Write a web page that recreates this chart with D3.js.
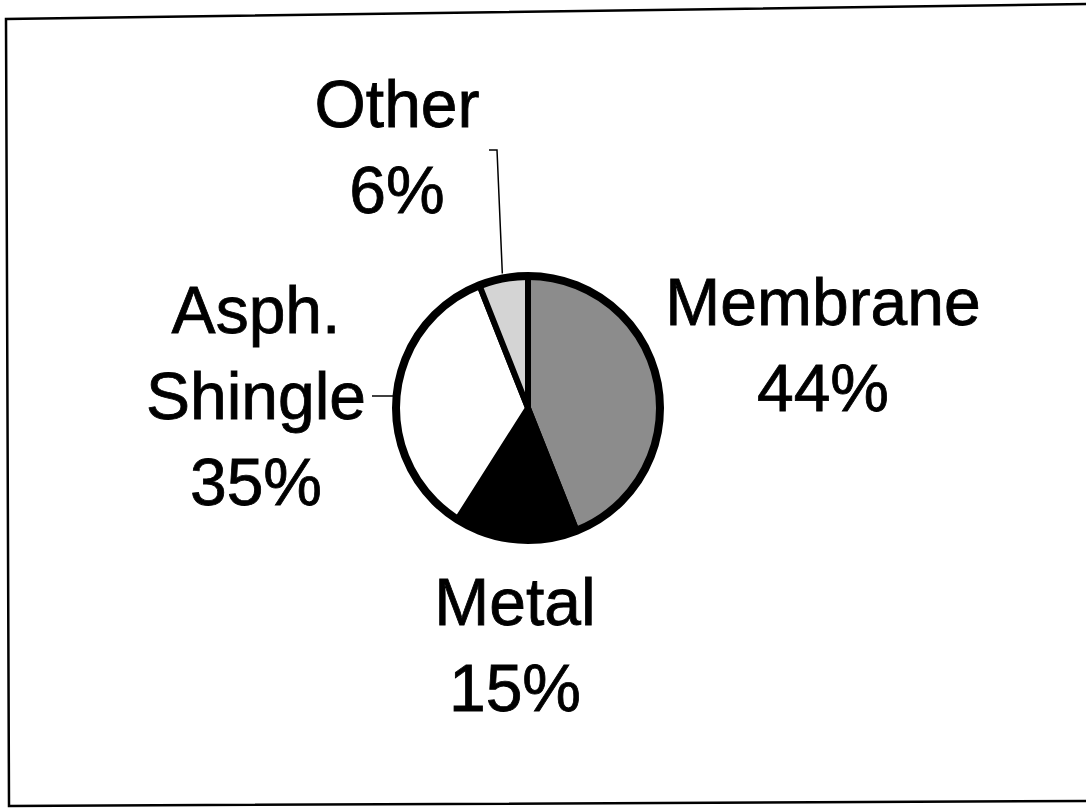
<!DOCTYPE html>
<html>
<head>
<meta charset="utf-8">
<script src="https://cdn.jsdelivr.net/npm/d3@7"></script>
<style>
  html, body { margin: 0; padding: 0; background: #fff; }
  svg text { font-family: "Liberation Sans", Arial, Helvetica, sans-serif; fill: #000; }
</style>
</head>
<body>
<svg id="chart" width="1086" height="812"></svg>
<script>
// roof type shares (percent)
const categories = ["Membrane", "Metal", "Asph. Shingle", "Other"];
const values = [44, 15, 35, 6];
const fills = ["#8c8c8c", "#000000", "#ffffff", "#d4d4d4"];

const svg = d3.select("#chart");
const width = 1086;
const height = 812;

// scanned page frame (slightly skewed like the scan)
svg.append("path")
  .attr("d", "M1092,4 L6,19 L9,806 L1092,801")
  .attr("fill", "none")
  .attr("stroke", "#000")
  .attr("stroke-width", 2.5);

const cx = 528, cy = 408, radius = 132;

const pie = d3.pie().sort(null).value((d) => d.value);
const arc = d3.arc().innerRadius(0).outerRadius(radius);

const data = categories.map((c, i) => ({ name: c, value: values[i], fill: fills[i] }));
const arcs = pie(data);

const g = svg.append("g").attr("transform", `translate(${cx}, ${cy})`);

g.selectAll("path.slice")
  .data(arcs)
  .enter()
  .append("path")
  .attr("class", "slice")
  .attr("d", arc)
  .attr("fill", (d) => d.data.fill)
  .attr("stroke", "#000")
  .attr("stroke-width", 6)
  .attr("stroke-linejoin", "round");

// outer ring drawn thicker on top
g.append("circle")
  .attr("r", radius)
  .attr("fill", "none")
  .attr("stroke", "#000")
  .attr("stroke-width", 8);

// leader lines
const other = arcs[3];
const aOther = (other.startAngle + other.endAngle) / 2;
const oxEdge = Math.sin(aOther) * (radius + 5);
const oyEdge = -Math.cos(aOther) * (radius + 5);
svg.append("polyline")
  .attr("points", `${cx - 39},150 ${cx - 31},150 ${cx + oxEdge},${cy + oyEdge}`)
  .attr("fill", "none")
  .attr("stroke", "#000")
  .attr("stroke-width", 1.5);

const shingle = arcs[2];
const aSh = (shingle.startAngle + shingle.endAngle) / 2;
svg.append("line")
  .attr("x1", 372)
  .attr("y1", 396)
  .attr("x2", cx + Math.sin(aSh) * (radius + 3))
  .attr("y2", 396)
  .attr("stroke", "#000")
  .attr("stroke-width", 1.5);

// labels: name lines + percent
const labelPos = [
  { x: 823, y: 325 },
  { x: 515, y: 625 },
  { x: 256, y: 333 },
  { x: 397, y: 127 },
];
const lineGap = 86;

arcs.forEach((d, i) => {
  const lines = d.data.name === "Asph. Shingle" ? ["Asph.", "Shingle"] : [d.data.name];
  lines.push(`${d.data.value}%`);
  const t = svg.append("text")
    .attr("x", labelPos[i].x)
    .attr("y", labelPos[i].y)
    .attr("text-anchor", "middle")
    .attr("font-size", "66px")
    .attr("stroke", "#000")
    .attr("stroke-width", 0.8);
  lines.forEach((s, j) => {
    t.append("tspan")
      .attr("x", labelPos[i].x)
      .attr("y", labelPos[i].y + j * lineGap)
      .text(s);
  });
});
</script>
</body>
</html>
